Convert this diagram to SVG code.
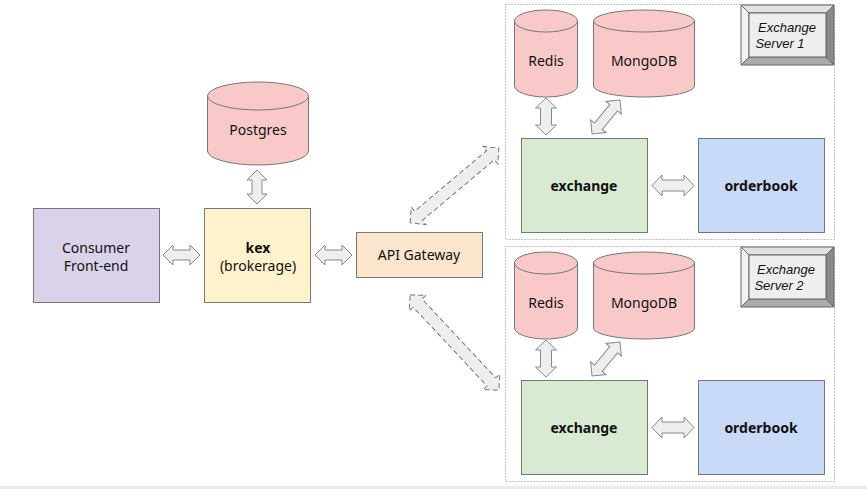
<svg xmlns="http://www.w3.org/2000/svg" width="867" height="489" viewBox="0 0 867 489">
<style>
  text { font-family: "Noto Sans", "Open Sans", "DejaVu Sans", sans-serif; font-size: 14px; fill: #111; text-anchor: middle; dominant-baseline: central; }
  .b { font-weight: bold; }
  .it { font-family: "Liberation Sans", Arial, sans-serif; font-style: italic; font-size: 13px; }
  .box { stroke: #777; stroke-width: 1; }
  .cyl { fill: #f9c9ca; stroke: #777; stroke-width: 1; }
  .cont { fill: none; stroke: #888; stroke-width: 1; stroke-dasharray: 1 2; }
  .arr { fill: #eeeeee; stroke: #888; stroke-width: 1; stroke-linejoin: miter; }
  .darr { fill: #eeeeee; stroke: #777; stroke-width: 1; stroke-dasharray: 5 3; }
</style>
<rect x="0" y="0" width="867" height="489" fill="#fff"/>
<rect x="0" y="486" width="867" height="3" fill="#ebebeb"/>

<!-- containers -->
<g id="server1">
  <rect class="cont" x="505.5" y="4.5" width="329" height="235"/>
  <g id="label1">
    <polygon points="741,5 834,5 826,13 749,13" fill="#e2e2e2" stroke="#666"/>
    <polygon points="741,5 749,13 749,57 741,65" fill="#f2f2f2" stroke="#666"/>
    <polygon points="834,5 834,65 826,57 826,13" fill="#8a8a8a" stroke="#666"/>
    <polygon points="741,65 749,57 826,57 834,65" fill="#ababab" stroke="#666"/>
    <rect x="749" y="13" width="77" height="44" fill="#eeeeee" stroke="#666"/>
    <text class="it" x="787" y="27">Exchange</text>
    <text class="it" x="780" y="43">Server 1</text>
  </g>
</g>
<g id="server2">
  <rect class="cont" x="505.5" y="246.5" width="329" height="235"/>
  <g id="label2">
    <polygon points="741,247 834,247 826,255 749,255" fill="#e2e2e2" stroke="#666"/>
    <polygon points="741,247 749,255 749,299 741,307" fill="#f2f2f2" stroke="#666"/>
    <polygon points="834,247 834,307 826,299 826,255" fill="#8a8a8a" stroke="#666"/>
    <polygon points="741,307 749,299 826,299 834,307" fill="#ababab" stroke="#666"/>
    <rect x="749" y="255" width="77" height="44" fill="#eeeeee" stroke="#666"/>
    <text class="it" x="786" y="269">Exchange</text>
    <text class="it" x="779" y="285">Server 2</text>
  </g>
</g>

<!-- nodes -->
<g id="consumer">
  <rect class="box" x="33.5" y="208.5" width="126" height="94" fill="#d9d2e9"/>
  <text x="96" y="247.5">Consumer</text>
  <text x="96" y="265.5">Front-end</text>
</g>
<g id="kex">
  <rect class="box" x="204.5" y="208.5" width="106" height="94" fill="#fff2cc"/>
  <text class="b" x="258" y="247.5">kex</text>
  <text x="258" y="265.5">(brokerage)</text>
</g>
<g id="postgres">
  <path class="cyl" d="M207.5,96 A50.5,14 0 0 1 308.5,96 L308.5,151 A50.5,14 0 0 1 207.5,151 Z"/>
  <path class="cyl" d="M207.5,96 A50.5,14 0 0 0 308.5,96" fill="none"/>
  <text x="258" y="129.5">Postgres</text>
</g>
<g id="api">
  <rect class="box" x="356.5" y="232.5" width="126" height="45" fill="#fce5cd"/>
  <text x="419" y="254.5">API Gateway</text>
</g>

<g id="redis1">
  <path class="cyl" d="M514.5,21 A31.5,11 0 0 1 577.5,21 L577.5,86 A31.5,11 0 0 1 514.5,86 Z"/>
  <path class="cyl" d="M514.5,21 A31.5,11 0 0 0 577.5,21" fill="none"/>
  <text x="546" y="60.5">Redis</text>
</g>
<g id="mongo1">
  <path class="cyl" d="M593.5,21 A50.5,11 0 0 1 694.5,21 L694.5,86 A50.5,11 0 0 1 593.5,86 Z"/>
  <path class="cyl" d="M593.5,21 A50.5,11 0 0 0 694.5,21" fill="none"/>
  <text x="644" y="60.5">MongoDB</text>
</g>
<g id="exchange1">
  <rect class="box" x="521.5" y="138.5" width="126" height="94" fill="#d9ead3"/>
  <text class="b" x="584" y="185.5">exchange</text>
</g>
<g id="orderbook1">
  <rect class="box" x="698.5" y="138.5" width="126" height="94" fill="#c9daf8"/>
  <text class="b" x="761" y="185.5">orderbook</text>
</g>

<g id="redis2">
  <path class="cyl" d="M514.5,263 A31.5,11 0 0 1 577.5,263 L577.5,328 A31.5,11 0 0 1 514.5,328 Z"/>
  <path class="cyl" d="M514.5,263 A31.5,11 0 0 0 577.5,263" fill="none"/>
  <text x="546" y="302.5">Redis</text>
</g>
<g id="mongo2">
  <path class="cyl" d="M593.5,263 A50.5,11 0 0 1 694.5,263 L694.5,328 A50.5,11 0 0 1 593.5,328 Z"/>
  <path class="cyl" d="M593.5,263 A50.5,11 0 0 0 694.5,263" fill="none"/>
  <text x="644" y="302.5">MongoDB</text>
</g>
<g id="exchange2">
  <rect class="box" x="521.5" y="380.5" width="126" height="94" fill="#d9ead3"/>
  <text class="b" x="584" y="427.5">exchange</text>
</g>
<g id="orderbook2">
  <rect class="box" x="698.5" y="380.5" width="126" height="94" fill="#c9daf8"/>
  <text class="b" x="761" y="427.5">orderbook</text>
</g>

<!-- connectors -->
<g id="connectors">
  <path class="arr" transform="translate(181.5,255)" d="M-18.5,0 L-8.5,-10 L-8.5,-5 L8.5,-5 L8.5,-10 L18.5,0 L8.5,10 L8.5,5 L-8.5,5 L-8.5,10 Z"/>
  <path class="arr" transform="translate(333.5,255)" d="M-18.5,0 L-8.5,-10 L-8.5,-5 L8.5,-5 L8.5,-10 L18.5,0 L8.5,10 L8.5,5 L-8.5,5 L-8.5,10 Z"/>
  <path class="arr" transform="translate(257,187) rotate(90)" d="M-17,0 L-7,-10 L-7,-5 L7,-5 L7,-10 L17,0 L7,10 L7,5 L-7,5 L-7,10 Z"/>
  <path class="arr" transform="translate(546,116.5) rotate(90)" d="M-18.5,0 L-8.5,-10.5 L-8.5,-5.5 L8.5,-5.5 L8.5,-10.5 L18.5,0 L8.5,10.5 L8.5,5.5 L-8.5,5.5 L-8.5,10.5 Z"/>
  <path class="arr" transform="translate(606,117) rotate(-50.5)" d="M-22,0 L-12,-10 L-12,-5 L12,-5 L12,-10 L22,0 L12,10 L12,5 L-12,5 L-12,10 Z"/>
  <path class="arr" transform="translate(673,185.5)" d="M-21,0 L-11,-10.5 L-11,-5.5 L11,-5.5 L11,-10.5 L21,0 L11,10.5 L11,5.5 L-11,5.5 L-11,10.5 Z"/>
  <path class="arr" transform="translate(546,358.5) rotate(90)" d="M-18.5,0 L-8.5,-10.5 L-8.5,-5.5 L8.5,-5.5 L8.5,-10.5 L18.5,0 L8.5,10.5 L8.5,5.5 L-8.5,5.5 L-8.5,10.5 Z"/>
  <path class="arr" transform="translate(606,359) rotate(-50.5)" d="M-22,0 L-12,-10 L-12,-5 L12,-5 L12,-10 L22,0 L12,10 L12,5 L-12,5 L-12,10 Z"/>
  <path class="arr" transform="translate(673,427.5)" d="M-21,0 L-11,-10.5 L-11,-5.5 L11,-5.5 L11,-10.5 L21,0 L11,10.5 L11,5.5 L-11,5.5 L-11,10.5 Z"/>
  <path class="darr" transform="translate(454.5,185.5) rotate(-40.1)" d="M-58,0 L-47,-11.5 L-47,-6 L47,-6 L47,-11.5 L58,0 L47,11.5 L47,6 L-47,6 L-47,11.5 Z"/>
  <path class="darr" transform="translate(454.5,342.5) rotate(46.9)" d="M-65,0 L-54,-11.5 L-54,-6 L54,-6 L54,-11.5 L65,0 L54,11.5 L54,6 L-54,6 L-54,11.5 Z"/>
</g>
</svg>
